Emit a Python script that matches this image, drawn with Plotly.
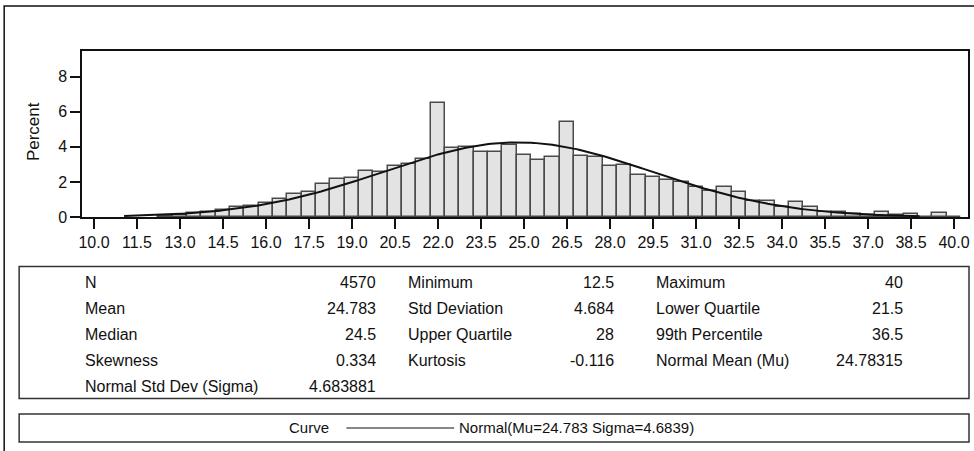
import math
import plotly.graph_objects as go

# ---------------- data ----------------
bin_centers = [12.5, 13.0, 13.5, 14.0, 14.5, 15.0, 15.5, 16.0, 16.5, 17.0, 17.5, 18.0,
               18.5, 19.0, 19.5, 20.0, 20.5, 21.0, 21.5, 22.0, 22.5, 23.0, 23.5, 24.0,
               24.5, 25.0, 25.5, 26.0, 26.5, 27.0, 27.5, 28.0, 28.5, 29.0, 29.5, 30.0,
               30.5, 31.0, 31.5, 32.0, 32.5, 33.0, 33.5, 34.0, 34.5, 35.0, 35.5, 36.0,
               36.5, 37.0, 37.5, 38.0, 38.5, 39.0, 39.5, 40.0]
percent = [0.04, 0.09, 0.20, 0.31, 0.42, 0.55, 0.62, 0.80, 1.04, 1.32, 1.42, 1.88,
           2.16, 2.25, 2.63, 2.56, 2.92, 3.03, 3.31, 6.50, 3.92, 3.98, 3.69, 3.69,
           4.11, 3.54, 3.26, 3.45, 5.40, 3.50, 3.41, 2.92, 2.97, 2.41, 2.31, 2.12,
           1.99, 1.72, 1.50, 1.69, 1.41, 0.92, 0.94, 0.59, 0.85, 0.57, 0.28, 0.28,
           0.17, 0.12, 0.28, 0.10, 0.19, 0.02, 0.20, 0.02]
bin_width = 0.5
mu = 24.78315
sigma = 4.683881
curve_start = 11.05
curve_end = 38.8

x_tick_vals = [10.0 + 1.5 * i for i in range(21)]
x_tick_text = ["%.1f" % v for v in x_tick_vals]
y_tick_vals = [0, 2, 4, 6, 8]

stat_labels_1 = ["N", "Mean", "Median", "Skewness", "Normal Std Dev (Sigma)"]
stat_values_1 = ["4570", "24.783", "24.5", "0.334", "4.683881"]
stat_labels_2 = ["Minimum", "Std Deviation", "Upper Quartile", "Kurtosis"]
stat_values_2 = ["12.5", "4.684", "28", "-0.116"]
stat_labels_3 = ["Maximum", "Lower Quartile", "99th Percentile", "Normal Mean (Mu)"]
stat_values_3 = ["40", "21.5", "36.5", "24.78315"]

legend_title = "Curve"
legend_label = "Normal(Mu=24.783 Sigma=4.6839)"

# ---------------- layout geometry (pixels) ----------------
W, H = 974, 451
ML, MR, MT, MB = 82, 4, 51, 234
PW = W - ML - MR
PH = H - MT - MB


def xp(px):
    return (px - ML) / PW


def yp(py):
    return (H - MB - py) / PH


FONT = "Liberation Sans, Arial, sans-serif"
INK = "#111111"

# normal curve from the stated fit parameters
n_pts = 300
cx = [curve_start + (curve_end - curve_start) * i / (n_pts - 1) for i in range(n_pts)]
cy = [100 * bin_width / (sigma * math.sqrt(2 * math.pi)) * math.exp(-0.5 * ((v - mu) / sigma) ** 2) for v in cx]

fig = go.Figure()
fig.add_trace(go.Bar(x=bin_centers, y=percent, width=bin_width,
                     marker=dict(color="#e3e3e3", line=dict(color="#4a4a4a", width=1.5)),
                     showlegend=False, hoverinfo="skip"))
fig.add_trace(go.Scatter(x=cx, y=cy, mode="lines", line=dict(color=INK, width=2),
                         showlegend=False, hoverinfo="skip"))

shapes = []
shapes.append(dict(type="rect", xref="paper", yref="paper",
                   x0=xp(4), x1=xp(990), y0=yp(6), y1=yp(480),
                   line=dict(color=INK, width=1.5), fillcolor="rgba(0,0,0,0)"))
shapes.append(dict(type="rect", xref="paper", yref="paper",
                   x0=xp(19), x1=xp(971), y0=yp(266.5), y1=yp(398.5),
                   line=dict(color="#333333", width=1.5), fillcolor="rgba(0,0,0,0)"))
shapes.append(dict(type="rect", xref="paper", yref="paper",
                   x0=xp(19), x1=xp(971), y0=yp(414), y1=yp(442),
                   line=dict(color="#333333", width=1.5), fillcolor="rgba(0,0,0,0)"))
shapes.append(dict(type="line", xref="paper", yref="paper",
                   x0=xp(347), x1=xp(455), y0=yp(428), y1=yp(428),
                   line=dict(color=INK, width=1.2)))

ann = []
row_y = [282, 308, 334, 360, 386]
TF = dict(family=FONT, size=16, color=INK)
for i, (lab, val) in enumerate(zip(stat_labels_1, stat_values_1)):
    ann.append(dict(x=xp(83), y=yp(row_y[i]), text=lab, xanchor="left"))
    ann.append(dict(x=xp(379), y=yp(row_y[i]), text=val, xanchor="right"))
for i, (lab, val) in enumerate(zip(stat_labels_2, stat_values_2)):
    ann.append(dict(x=xp(407), y=yp(row_y[i]), text=lab, xanchor="left"))
    ann.append(dict(x=xp(617), y=yp(row_y[i]), text=val, xanchor="right"))
for i, (lab, val) in enumerate(zip(stat_labels_3, stat_values_3)):
    ann.append(dict(x=xp(655), y=yp(row_y[i]), text=lab, xanchor="left"))
    ann.append(dict(x=xp(907), y=yp(row_y[i]), text=val, xanchor="right"))
for a in ann:
    a.update(xref="paper", yref="paper", yanchor="middle", showarrow=False, font=TF)

ann.append(dict(x=xp(310), y=yp(428), xref="paper", yref="paper", text=legend_title,
                xanchor="center", yanchor="middle", showarrow=False,
                font=dict(family=FONT, size=15, color=INK)))
ann.append(dict(x=xp(458), y=yp(428), xref="paper", yref="paper", text=legend_label,
                xanchor="left", yanchor="middle", showarrow=False,
                font=dict(family=FONT, size=15, color=INK)))
ann.append(dict(x=xp(33), y=yp(132), xref="paper", yref="paper", text="Percent",
                textangle=-90, xanchor="center", yanchor="middle", showarrow=False,
                font=dict(family=FONT, size=17, color=INK)))

fig.update_layout(
    width=W, height=H,
    margin=dict(l=ML, r=MR, t=MT, b=MB, pad=0),
    paper_bgcolor="white", plot_bgcolor="white",
    bargap=0,
    shapes=shapes, annotations=ann,
    xaxis=dict(range=[9.582, 40.49], tickmode="array", tickvals=x_tick_vals, ticktext=x_tick_text,
               ticks="outside", ticklen=10, tickwidth=1.5, tickcolor=INK,
               showline=True, linecolor=INK, linewidth=1.5, mirror=True,
               showgrid=False, zeroline=False,
               tickfont=dict(family=FONT, size=16, color=INK)),
    yaxis=dict(range=[0, 9.47], tickmode="array", tickvals=y_tick_vals,
               ticks="outside", ticklen=10, tickwidth=1.5, tickcolor=INK,
               showline=True, linecolor=INK, linewidth=1.5, mirror=True,
               showgrid=False, zeroline=False,
               tickfont=dict(family=FONT, size=16, color=INK)),
)

fig.write_html("out.html", config={"displayModeBar": False},
               post_script="document.body.style.margin='0px';document.body.style.overflow='hidden';")
